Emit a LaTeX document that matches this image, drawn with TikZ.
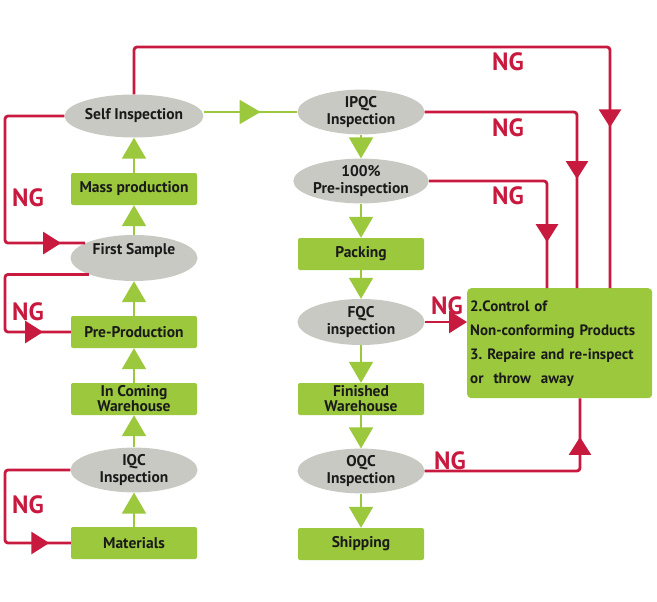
\documentclass[tikz,border=0pt]{standalone}
\usepackage{fontspec}
\setmainfont{PT Sans}
\frenchspacing
\usetikzlibrary{shapes.geometric,arrows.meta,decorations.markings,calc}
\definecolor{gfill}{HTML}{9BC83C}
\definecolor{gline}{HTML}{9BC83C}
\definecolor{efill}{HTML}{C9C9C3}
\definecolor{rcol}{HTML}{C8193F}
\definecolor{tcol}{HTML}{1A1A1A}
\tikzset{
  ell/.style={ellipse, fill=efill, minimum width=127pt, minimum height=43pt, inner sep=0pt, align=center,
    font=\bfseries\fontsize{15.5}{17.5}\selectfont, text=tcol},
  gbox/.style={rectangle, rounded corners=2pt, fill=gfill, minimum width=126pt, minimum height=32pt, inner sep=0pt,
    align=center, font=\bfseries\fontsize{15.5}{15}\selectfont, text=tcol},
  garrow/.style={draw=gline, line width=1.8pt, -{Triangle[width=24pt,length=21pt]}},
  rline/.style={draw=rcol, line width=2.8pt, rounded corners=3pt},
  rtip/.style={postaction={decorate}, decoration={markings, mark=at position #1 with {\arrow[rcol]{Triangle[width=22pt,length=18pt]}}}},
  gtip/.style={postaction={decorate}, decoration={markings, mark=at position #1 with {\arrow[gline]{Triangle[width=24pt,length=21pt]}}}},
  nglab/.style={text=rcol, font=\bfseries\fontsize{25}{25}\selectfont, inner sep=0pt},
}
\begin{document}
\begin{tikzpicture}[x=1pt,y=-1pt]
\useasboundingbox (0,0) rectangle (657,602);
% left column
\node[ell] (self) at (134,116) {Self Inspection};
\node[gbox] (mass) at (134,189) {Mass production};
\node[ell, minimum height=46pt] (first) at (134,258) {First Sample\\\phantom{I}};
\node[gbox] (prep) at (134,332) {Pre-Production};
\node[gbox] (inc) at (134,399) {In Coming\\Warehouse};
\node[ell] (iqc) at (134,470) {IQC\\Inspection};
\node[gbox] (mat) at (134,543) {Materials};
% middle column
\node[ell] (ipqc) at (361,112) {IPQC\\Inspection};
\node[ell] (pre) at (361,181) {100\%\\Pre-inspection};
\node[gbox] (pack) at (361,254) {Packing};
\node[ell, minimum height=46pt] (fqc) at (361,322) {FQC\\inspection};
\node[gbox] (fin) at (361,399) {Finished\\Warehouse};
\node[ell] (oqc) at (361,471) {OQC\\Inspection};
\node[gbox] (ship) at (361,544) {Shipping};
% right box
\node[rectangle, rounded corners=4pt, fill=gfill, minimum width=185pt, minimum height=110pt, anchor=north west,
  text width=179pt, inner xsep=3pt, inner ysep=0pt, align=left, text=tcol,
  font=\bfseries\fontsize{15}{24}\selectfont] (cbox) at (467,288)
  {2.Control of\\Non-conforming Products\\3. Repaire and re-inspect\\or~ throw~ away};
% green arrows
\draw[garrow] (mass) -- (self);
\draw[garrow] (first) -- (mass);
\draw[garrow] (prep) -- (first);
\draw[garrow] (inc) -- (prep);
\draw[garrow] (iqc) -- (inc);
\draw[garrow] (mat) -- (iqc);
\draw[garrow] (ipqc) -- (pre);
\draw[garrow] (pre) -- (pack);
\draw[garrow] (pack) -- (fqc);
\draw[garrow] (fqc) -- (fin);
\draw[garrow] (fin) -- (oqc);
\draw[garrow] (oqc) -- (ship);
\draw[draw=gline, line width=1.8pt, gtip=57pt] (self.east |- ipqc.west) -- (ipqc.west);
% red NG loops
\coordinate (t1) at (610,47);
\coordinate (t2) at (577,0);
\coordinate (t3) at (547,0);
\coordinate (t4) at (580,0);
\coordinate (l1) at (5,0);
\draw[rline, rtip=601pt] (self.north) |- (t1) -- (t1 |- cbox.north);
\draw[rline, rtip=218pt] (ipqc.east) -- (t2 |- ipqc.east) -- (t2 |- cbox.north);
\draw[rline, rtip=178pt] (pre.east) -- (t3 |- pre.east) -- (t3 |- cbox.north);
\draw[rline, -{Triangle[width=22pt,length=18pt]}] (fqc.east) -- (cbox.west |- fqc.east);
\draw[rline, rtip=188pt] (oqc.east) -- (t4 |- oqc.east) -- (t4 |- cbox.south);
\draw[rline, rtip=240pt] (self.west) -- (l1 |- self.west) -- (l1 |- first.163) -- (first.163);
\draw[rline, rtip=177pt] (first.200) -- (l1 |- first.200) -- (l1 |- prep.west) -- (prep.west);
\draw[rline, rtip=180pt] (iqc.west) -- (l1 |- iqc.west) -- (l1 |- mat.west) -- (mat.west);
% NG labels
\node[nglab] (ng1) at (508,62) {NG};
\node[nglab] (ng2) at (508,128) {NG};
\node[nglab] (ng3) at (508,196) {NG};
\node[nglab] (ng4) at (447,306) {NG};
\node[nglab] (ng5) at (450,461) {NG};
\node[nglab] (ng6) at (28,198) {NG};
\node[nglab] (ng7) at (28,312) {NG};
\node[nglab] (ng8) at (28,505) {NG};
\end{tikzpicture}
\end{document}
